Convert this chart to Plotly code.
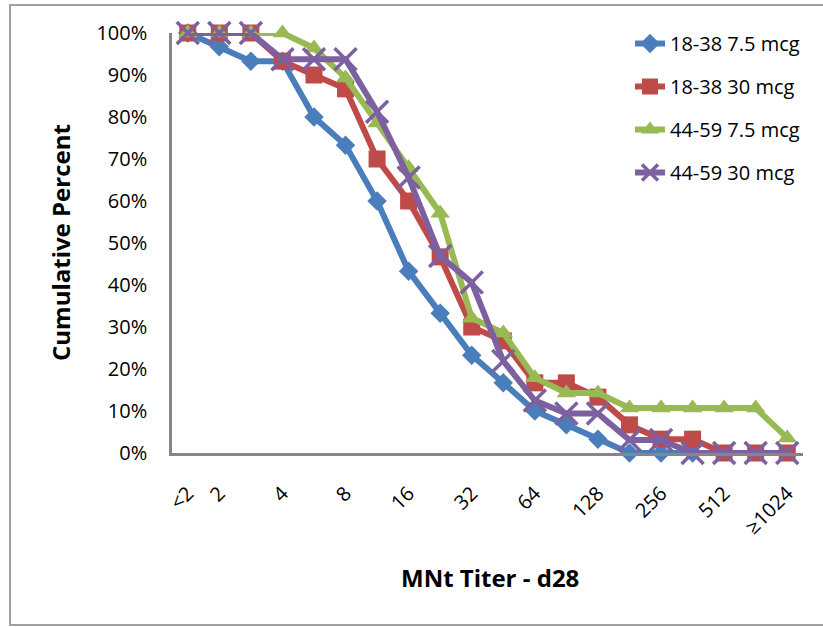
import plotly.graph_objects as go

# Category axis (titer steps); only some are labelled
categories = ["<2", "2", "2.8", "4", "5.7", "8", "11", "16", "23", "32", "45",
              "64", "91", "128", "181", "256", "362", "512", "724", "≥1024"]
tick_categories = ["<2", "2", "4", "8", "16", "32", "64", "128", "256", "512", "≥1024"]
tick_labels = ["<2", "2", "4", "8", "16", "32", "64", "128", "256", "512", "≥1024"]

# Cumulative percent (fractions)
s_18_38_7_5 = [1.0, 0.967, 0.933, 0.933, 0.80, 0.733, 0.60, 0.433, 0.333, 0.233, 0.167,
               0.10, 0.067, 0.033, 0.0, 0.0, 0.0, None, None, None]
s_18_38_30 = [1.0, 1.0, 1.0, 0.933, 0.90, 0.867, 0.70, 0.60, 0.467, 0.30, 0.267,
              0.167, 0.167, 0.133, 0.067, 0.033, 0.033, 0.0, 0.0, 0.0]
s_44_59_7_5 = [1.0, 1.0, 1.0, 1.0, 0.964, 0.893, 0.786, 0.679, 0.571, 0.321, 0.286,
               0.179, 0.143, 0.143, 0.107, 0.107, 0.107, 0.107, 0.107, 0.036]
s_44_59_30 = [1.0, 1.0, 1.0, 0.9375, 0.9375, 0.9375, 0.8125, 0.656, 0.469, 0.406, 0.219,
              0.125, 0.094, 0.094, 0.031, 0.031, 0.0, 0.0, 0.0, 0.0]

series_names = ["18-38 7.5 mcg", "18-38 30 mcg", "44-59 7.5 mcg", "44-59 30 mcg"]
series_values = [s_18_38_7_5, s_18_38_30, s_44_59_7_5, s_44_59_30]
colors = ["#4A7EBB", "#BE4B48", "#98B954", "#7D60A0"]
symbols = ["diamond", "square", "triangle-up", "x-thin"]
sizes = [15, 17, 17, 22]

FONT = "Open Sans, Liberation Sans, sans-serif"

fig = go.Figure()
for name, vals, col, sym, sz in zip(series_names, series_values, colors, symbols, sizes):
    marker = dict(symbol=sym, size=sz, color=col)
    if sym == "x-thin":
        marker["line"] = dict(color=col, width=3.5)
    else:
        marker["line"] = dict(color=col, width=0)
    fig.add_trace(go.Scatter(
        x=categories, y=vals, name=name, mode="lines+markers",
        line=dict(color=col, width=6), marker=marker,
        cliponaxis=False, legendgroup=name,
    ))

L, R, T, B = 172, 20, 33, 174
W, H = 823, 627
pw, ph = W - L - R, H - T - B

def px(xp):
    return (xp - L) / pw

def py(yp):
    return (H - B - yp) / ph

fig.update_layout(
    width=W, height=H,
    margin=dict(l=L, r=R, t=T, b=B),
    paper_bgcolor="white", plot_bgcolor="white",
    font=dict(family=FONT, color="black", size=20),
    showlegend=True,
    legend=dict(x=px(630), y=py(24), xanchor="left", yanchor="top",
                font=dict(size=20, family=FONT, color="black"),
                tracegroupgap=14, bgcolor="rgba(0,0,0,0)"),
    xaxis=dict(type="category", categoryorder="array", categoryarray=categories,
               range=[-0.5, len(categories) - 0.5],
               tickmode="array", tickvals=tick_categories, ticktext=tick_labels,
               tickangle=-45, ticks="", showgrid=False, zeroline=False,
               showline=True, linecolor="#868686", linewidth=2.5,
               ticklabelstandoff=18, tickfont=dict(size=20)),
    yaxis=dict(range=[0, 1], dtick=0.1, tickformat=".0%", ticks="",
               showgrid=False, zeroline=False,
               showline=True, linecolor="#868686", linewidth=2.5,
               ticklabelstandoff=18, tickfont=dict(size=20)),
    annotations=[
        dict(text="<b>MNt Titer - d28</b>", xref="paper", yref="paper",
             x=px(490), y=py(577), xanchor="center", yanchor="middle",
             showarrow=False, font=dict(size=24, family=FONT, color="black")),
        dict(text="<b>Cumulative Percent</b>", xref="paper", yref="paper",
             x=px(60), y=py(243), xanchor="center", yanchor="middle",
             textangle=-90, showarrow=False,
             font=dict(size=24, family=FONT, color="black")),
    ],
    shapes=[
        dict(type="rect", xref="paper", yref="paper",
             x0=px(10), x1=px(835), y0=py(625), y1=py(5),
             line=dict(color="#A0A0A0", width=2), fillcolor="rgba(0,0,0,0)",
             layer="below"),
    ],
)

fig.write_html("out.html")
